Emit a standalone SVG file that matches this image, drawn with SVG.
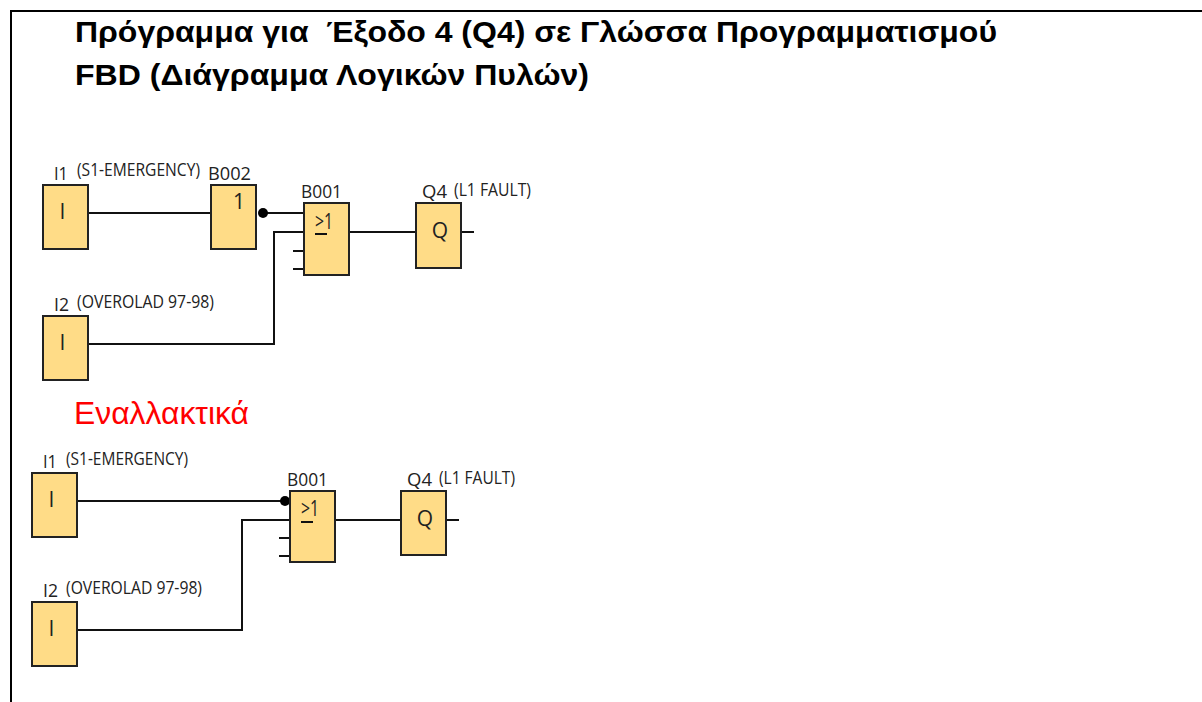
<svg xmlns="http://www.w3.org/2000/svg" width="1202" height="702" viewBox="0 0 1202 702">
<style>
.box{fill:#ffdc87;stroke:#222;stroke-width:2}
.wire{fill:none;stroke:#111;stroke-width:2}
.dot{fill:#000}
.lbl{font-family:"Open Sans","Noto Sans",sans-serif;font-size:19px;fill:#222}
.sym{font-family:"Open Sans","Noto Sans",sans-serif;font-size:21px;fill:#222;text-anchor:middle}
.title{font-family:"Liberation Sans",Arial,sans-serif;font-weight:bold;font-size:29.5px;fill:#000}
</style>
<rect width="1202" height="702" fill="#fff"/>
<path d="M11 702V11H1202" fill="none" stroke="#000" stroke-width="2"/>
<text class="title" x="75" y="42" xml:space="preserve" textLength="922" lengthAdjust="spacingAndGlyphs">Πρόγραμμα για  Έξοδο 4 (Q4) σε Γλώσσα Προγραμματισμού</text>
<text class="title" x="75" y="85" textLength="514" lengthAdjust="spacingAndGlyphs">FBD (Διάγραμμα Λογικών Πυλών)</text>
<text x="74" y="424" font-family="'Liberation Sans',Arial,sans-serif" font-size="32" fill="#f00" textLength="175" lengthAdjust="spacingAndGlyphs">Εναλλακτικά</text>
<g id="connectors">
<path class="wire" d="M88 213H211"/>
<path class="wire" d="M263 213H304"/>
<path class="wire" d="M88 344H274V232H304"/>
<path class="wire" d="M293 251H304M293 269H304"/>
<path class="wire" d="M349 232H416"/>
<path class="wire" d="M461 232H474"/>
<circle class="dot" cx="263" cy="213" r="5"/>
<path class="wire" d="M77 501H290"/>
<path class="wire" d="M77 630H242V520H290"/>
<path class="wire" d="M279 538H290M279 556H290"/>
<path class="wire" d="M335 520H401"/>
<path class="wire" d="M446 520H459"/>
<circle class="dot" cx="285" cy="501" r="5"/>
</g>
<g id="a-i1"><rect class="box" x="43" y="185" width="45" height="64"/><text class="sym" x="62.500" y="219">I</text>
<text class="lbl" x="54" y="180" textLength="14" lengthAdjust="spacingAndGlyphs">I1</text><text class="lbl" x="77" y="176" textLength="123" lengthAdjust="spacingAndGlyphs">(S1-EMERGENCY)</text></g>
<g id="a-b002"><rect class="box" x="211" y="185" width="45" height="64"/><text class="sym" x="239" y="209">1</text>
<text class="lbl" x="208" y="180" textLength="43" lengthAdjust="spacingAndGlyphs">B002</text></g>
<g id="a-i2"><rect class="box" x="43" y="316" width="45" height="64"/><text class="sym" x="62.500" y="350">I</text>
<text class="lbl" x="54" y="311" textLength="15" lengthAdjust="spacingAndGlyphs">I2</text><text class="lbl" x="77" y="308" textLength="137" lengthAdjust="spacingAndGlyphs">(OVEROLAD 97-98)</text></g>
<g id="a-b001"><rect class="box" x="304" y="203" width="45" height="72"/><text class="sym" x="315" y="229" style="text-anchor:start" textLength="18" lengthAdjust="spacingAndGlyphs">&gt;1</text><path class="wire" d="M315 234H327"/>
<text class="lbl" x="301" y="198" textLength="41" lengthAdjust="spacingAndGlyphs">B001</text></g>
<g id="a-q4"><rect class="box" x="416" y="203" width="45" height="65"/><text class="sym" x="440" y="238">Q</text>
<text class="lbl" x="422" y="198" textLength="25" lengthAdjust="spacingAndGlyphs">Q4</text><text class="lbl" x="454" y="196" textLength="77" lengthAdjust="spacingAndGlyphs">(L1 FAULT)</text></g>
<g id="b-i1"><rect class="box" x="32" y="473" width="45" height="64"/><text class="sym" x="51.500" y="507">I</text>
<text class="lbl" x="43" y="468" textLength="14" lengthAdjust="spacingAndGlyphs">I1</text><text class="lbl" x="66" y="465" textLength="122" lengthAdjust="spacingAndGlyphs">(S1-EMERGENCY)</text></g>
<g id="b-i2"><rect class="box" x="32" y="602" width="45" height="64"/><text class="sym" x="51.500" y="636">I</text>
<text class="lbl" x="43" y="597" textLength="15" lengthAdjust="spacingAndGlyphs">I2</text><text class="lbl" x="66" y="594" textLength="136" lengthAdjust="spacingAndGlyphs">(OVEROLAD 97-98)</text></g>
<g id="b-b001"><rect class="box" x="290" y="491" width="45" height="71"/><text class="sym" x="301" y="516" style="text-anchor:start" textLength="18" lengthAdjust="spacingAndGlyphs">&gt;1</text><path class="wire" d="M301 522H313"/>
<text class="lbl" x="287" y="486" textLength="41" lengthAdjust="spacingAndGlyphs">B001</text></g>
<g id="b-q4"><rect class="box" x="401" y="491" width="45" height="64"/><text class="sym" x="425" y="526">Q</text>
<text class="lbl" x="407" y="486" textLength="25" lengthAdjust="spacingAndGlyphs">Q4</text><text class="lbl" x="439" y="484" textLength="76" lengthAdjust="spacingAndGlyphs">(L1 FAULT)</text></g>
</svg>
